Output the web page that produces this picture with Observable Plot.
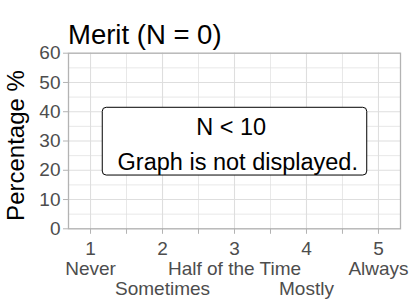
<!DOCTYPE html>
<html>
<head>
<meta charset="utf-8">
<script src="https://cdn.jsdelivr.net/npm/d3@7"></script>
<script src="https://cdn.jsdelivr.net/npm/@observablehq/plot@0.6"></script>
<style>
  html, body { margin: 0; padding: 0; background: #fff; }
  #wrap { position: relative; width: 409px; height: 299px; overflow: hidden;
          font-family: "Liberation Sans", Arial, sans-serif; }
  #title { position: absolute; left: 68px; top: 20.5px; font-size: 27.5px; line-height: 27.5px;
           color: #000; z-index: 2; white-space: pre; }
  #wrap svg { position: absolute; left: 0; top: 0; }
</style>
</head>
<body>
<div id="wrap"><div id="title"></div></div>
<script>
// ---- chart content ----
const chartTitle = "Merit (N = 0)";
const yLabel = "Percentage %";
const xTicks = [1, 2, 3, 4, 5];
const xTickLabels = ["1\nNever", "2\n\nSometimes", "3\nHalf of the Time", "4\n\nMostly", "5\nAlways"];
const xMinorTicks = [1.5, 2.5, 3.5, 4.5];
const yTicks = [0, 10, 20, 30, 40, 50, 60];
const yMinorTicks = [5, 15, 25, 35, 45, 55];
const noteText = ["N < 10 \n Graph is not displayed."];
const noteX = [3];
const noteY = [30];
const noteBoxX = [1.17, 4.844];
const noteBoxY = [18.2, 41.35];

// ---- build ----
document.getElementById("title").textContent = chartTitle;

const noteRows = noteText.map((t, i) => ({text: t, x: noteX[i], y: noteY[i]}));
const boxRows = [{x1: noteBoxX[0], x2: noteBoxX[1], y1: noteBoxY[0], y2: noteBoxY[1]}];
const xLabelRows = xTicks.map((v, i) => ({x: v, label: xTickLabels[i]}));
const allXTicks = [...xTicks, ...xMinorTicks].sort((a, b) => a - b);

const grid = "#dedede";
const border = "#b3b3b3";
const tickText = "#4d4d4d";

const chart = Plot.plot({
  width: 409,
  height: 299,
  marginLeft: 68,
  marginRight: 9,
  marginTop: 52.7,
  marginBottom: 70.7,
  style: {fontFamily: "'Liberation Sans', Arial, sans-serif", background: "transparent", overflow: "visible"},
  x: {domain: [0.694, 5.306]},
  y: {domain: [0, 60]},
  marks: [
    Plot.gridY(yMinorTicks, {stroke: grid, strokeOpacity: 1, strokeWidth: 0.7}),
    Plot.gridX(xMinorTicks, {stroke: grid, strokeOpacity: 1, strokeWidth: 0.7}),
    Plot.gridY(yTicks, {stroke: grid, strokeOpacity: 1, strokeWidth: 1.1}),
    Plot.gridX(xTicks, {stroke: grid, strokeOpacity: 1, strokeWidth: 1.1}),
    Plot.frame({stroke: border, strokeWidth: 1.3}),
    Plot.axisY(yTicks, {anchor: "left", tickSize: 5, tickPadding: 3, fontSize: 19,
      stroke: border, fill: tickText, label: null}),
    Plot.axisX(allXTicks, {anchor: "bottom", tickSize: 5.5, tickFormat: () => "",
      stroke: border, label: null}),
    Plot.text(xLabelRows, {x: "x", text: "label", frameAnchor: "bottom", lineAnchor: "top",
      dy: 11.5, fontSize: 19, lineHeight: 1.06, fill: tickText, textAnchor: "middle"}),
    Plot.text([yLabel], {frameAnchor: "left", rotate: -90, dx: -52, dy: 4.5, fontSize: 24,
      fill: "#000", textAnchor: "middle", lineAnchor: "middle"}),
    Plot.rect(boxRows, {x1: "x1", x2: "x2", y1: "y1", y2: "y2", fill: "white",
      stroke: "#000", strokeWidth: 1, rx: 4}),
    Plot.text(noteRows, {x: "x", y: "y", text: "text", fontSize: 23.5, lineHeight: 1.49,
      fill: "#000", textAnchor: "middle", lineAnchor: "middle"})
  ]
});
document.getElementById("wrap").appendChild(chart);
</script>
</body>
</html>
